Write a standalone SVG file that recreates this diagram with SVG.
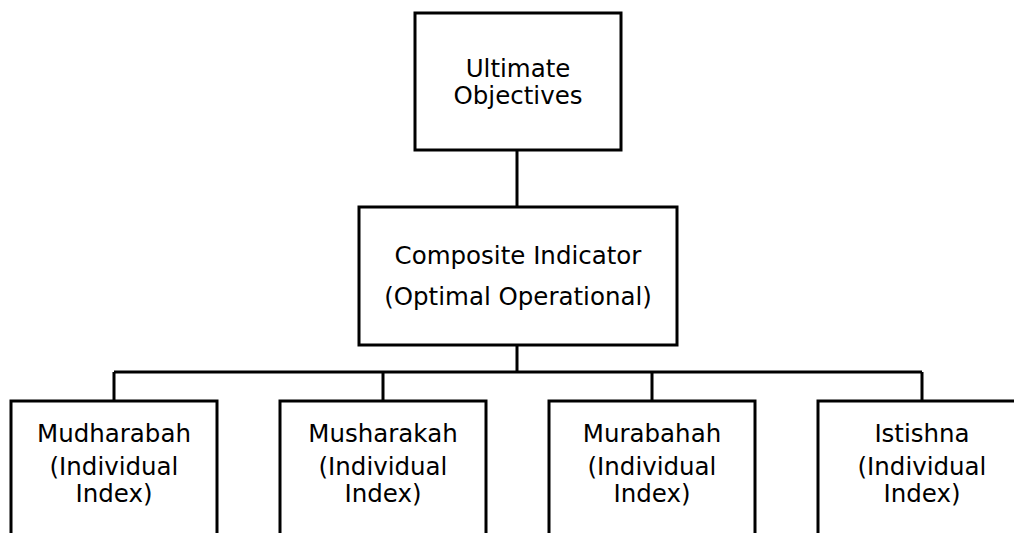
<svg xmlns="http://www.w3.org/2000/svg" width="1014" height="533" viewBox="0 0 1014 533">
<style>
.box{fill:#fff;stroke:#000;stroke-width:3}
.t{font-family:"DejaVu Sans","Noto Sans",sans-serif;font-size:24.5px;fill:#000;text-anchor:middle}
.c{fill:none;stroke:#000;stroke-width:3}
</style>
<rect width="1014" height="533" fill="#fff"/>
<g id="connectors">
<path class="c" d="M517,150V207M517,345V372M114,372H922M114,372V400M383,372V400M652,372V400M922,372V400"/>
</g>
<g id="n1"><rect class="box" x="415" y="13" width="206" height="137"/>
<text class="t" x="518" y="77">Ultimate</text><text class="t" x="518" y="104">Objectives</text></g>
<g id="n2"><rect class="box" x="359" y="207" width="318" height="138"/>
<text class="t" x="518" y="264">Composite Indicator</text><text class="t" x="518" y="305">(Optimal Operational)</text></g>
<g id="n3"><rect class="box" x="11" y="401" width="206" height="150"/>
<text class="t" x="114" y="442">Mudharabah</text><text class="t" x="114" y="475">(Individual</text><text class="t" x="114" y="502">Index)</text></g>
<g id="n4"><rect class="box" x="280" y="401" width="206" height="150"/>
<text class="t" x="383" y="442">Musharakah</text><text class="t" x="383" y="475">(Individual</text><text class="t" x="383" y="502">Index)</text></g>
<g id="n5"><rect class="box" x="549" y="401" width="206" height="150"/>
<text class="t" x="652" y="442">Murabahah</text><text class="t" x="652" y="475">(Individual</text><text class="t" x="652" y="502">Index)</text></g>
<g id="n6"><rect class="box" x="818" y="401" width="206" height="150"/>
<text class="t" x="922" y="442">Istishna</text><text class="t" x="922" y="475">(Individual</text><text class="t" x="922" y="502">Index)</text></g>
</svg>
